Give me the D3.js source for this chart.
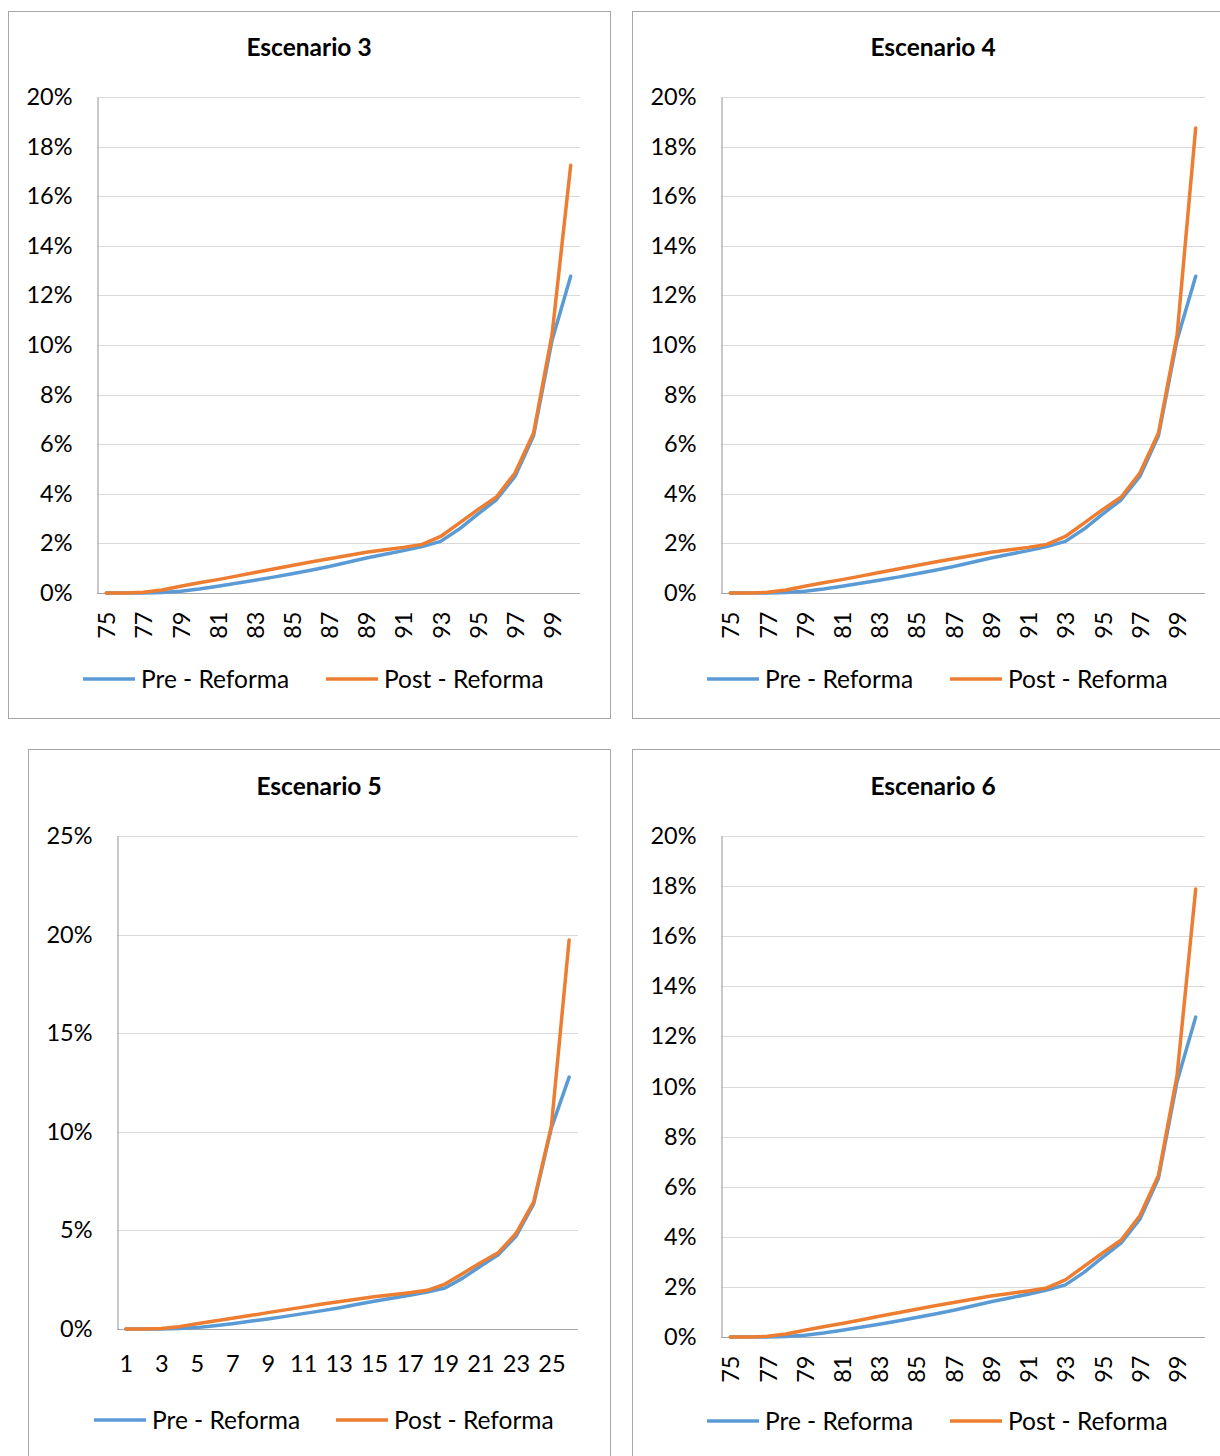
<!DOCTYPE html>
<html>
<head>
<meta charset="utf-8">
<script src="https://cdn.jsdelivr.net/npm/d3@7"></script>
<style>
  html, body { margin: 0; padding: 0; background: #ffffff; }
  svg { display: block; }
  text { font-family: Lato, "Noto Sans", sans-serif; fill: #000; }
</style>
</head>
<body>
<svg id="chart" width="1220" height="1456"></svg>
<script>
// Edades (eje X de los escenarios 3, 4 y 6)
const ages = [75, 76, 77, 78, 79, 80, 81, 82, 83, 84, 85, 86, 87, 88, 89, 90,
              91, 92, 93, 94, 95, 96, 97, 98, 99, 100];
// Índices (eje X del escenario 5)
const steps = [1, 2, 3, 4, 5, 6, 7, 8, 9, 10, 11, 12, 13, 14, 15, 16,
               17, 18, 19, 20, 21, 22, 23, 24, 25, 26];

// Valores en %
const preReforma = [0, 0, 0, 0.02, 0.07, 0.16, 0.27, 0.39, 0.51, 0.64, 0.78, 0.92, 1.07,
                    1.24, 1.41, 1.56, 1.71, 1.87, 2.08, 2.58, 3.18, 3.76, 4.70, 6.34, 10.2, 12.77];
const postEsc3 = [0, 0, 0.03, 0.12, 0.27, 0.41, 0.54, 0.68, 0.83, 0.97, 1.11, 1.25, 1.38,
                  1.51, 1.64, 1.74, 1.84, 1.96, 2.28, 2.82, 3.36, 3.87, 4.84, 6.45, 10.45, 17.25];
const postEsc4 = [0, 0, 0.03, 0.12, 0.27, 0.41, 0.54, 0.68, 0.83, 0.97, 1.11, 1.25, 1.38,
                  1.51, 1.64, 1.74, 1.84, 1.96, 2.28, 2.82, 3.36, 3.87, 4.84, 6.45, 10.4, 18.75];
const postEsc5 = [0, 0, 0.03, 0.12, 0.27, 0.41, 0.54, 0.68, 0.83, 0.97, 1.11, 1.25, 1.38,
                  1.51, 1.64, 1.74, 1.84, 1.96, 2.28, 2.82, 3.36, 3.87, 4.84, 6.45, 10.3, 19.73];
const postEsc6 = [0, 0, 0.03, 0.12, 0.27, 0.41, 0.54, 0.68, 0.83, 0.97, 1.11, 1.25, 1.38,
                  1.51, 1.64, 1.74, 1.84, 1.96, 2.28, 2.82, 3.36, 3.87, 4.84, 6.45, 10.45, 17.88];

const titles = ["Escenario 3", "Escenario 4", "Escenario 5", "Escenario 6"];
const seriesNames = ["Pre - Reforma", "Post - Reforma"];
const ticks20 = [0, 2, 4, 6, 8, 10, 12, 14, 16, 18, 20];
const ticks25 = [0, 5, 10, 15, 20, 25];

const colors = ["#5B9BD5", "#ED7D31"];

const panels = [
  { title: titles[0], cats: ages,  post: postEsc3, yTicks: ticks20, rotate: true,
    frame: [8.5, 11.5, 602, 707], plot: [97, 580, 97, 593], titleXY: [309, 56],
    legendY: 679, legendX: [83, 326] },
  { title: titles[1], cats: ages,  post: postEsc4, yTicks: ticks20, rotate: true,
    frame: [632.5, 11.5, 602, 707], plot: [721, 1205, 97, 593], titleXY: [933, 56],
    legendY: 679, legendX: [707, 950] },
  { title: titles[2], cats: steps, post: postEsc5, yTicks: ticks25, rotate: false,
    frame: [28.5, 749.5, 582, 730], plot: [117, 578, 836, 1329], titleXY: [319, 795],
    legendY: 1420, legendX: [94, 336] },
  { title: titles[3], cats: ages,  post: postEsc6, yTicks: ticks20, rotate: true,
    frame: [632.5, 749.5, 602, 730], plot: [721, 1205, 836, 1337], titleXY: [933, 795],
    legendY: 1421, legendX: [707, 950] }
];

const svg = d3.select("#chart");

panels.forEach(p => {
  const g = svg.append("g");
  const [fx, fy, fw, fh] = p.frame;
  g.append("rect").attr("x", fx).attr("y", fy).attr("width", fw).attr("height", fh)
    .attr("fill", "#fff").attr("stroke", "#a6a6a6").attr("stroke-width", 1);

  const [l, r, t, b] = p.plot;
  const x = d3.scalePoint().domain(p.cats).range([l, r]).padding(0.5);
  const yMax = p.yTicks[p.yTicks.length - 1];
  const y = d3.scaleLinear().domain([0, yMax]).range([b, t]);

  // Gridlines
  g.append("g").selectAll("line").data(p.yTicks.filter(v => v > 0)).join("line")
    .attr("x1", l).attr("x2", r)
    .attr("y1", d => Math.round(y(d)) + 0.5).attr("y2", d => Math.round(y(d)) + 0.5)
    .attr("stroke", "#d9d9d9").attr("stroke-width", 1.2);

  // Y axis
  const yAxis = d3.axisLeft(y).tickValues(p.yTicks).tickSize(0).tickPadding(25)
    .tickFormat(d => d + "%");
  const ya = g.append("g").attr("transform", `translate(${l + 0.5},0)`).call(yAxis);
  ya.select(".domain").attr("stroke", "#a6a6a6").attr("stroke-width", 1.2);
  ya.selectAll("text").style("font-family", "Lato, sans-serif").style("font-size", "23.5px")
    .attr("fill", "#000");

  // X axis
  const xAxis = d3.axisBottom(x).tickSize(0)
    .tickValues(p.cats.filter((d, i) => i % 2 === 0));
  const xa = g.append("g").attr("transform", `translate(0,${Math.round(b) + 0.5})`).call(xAxis);
  xa.select(".domain").attr("d", `M${l},0H${r}`).attr("stroke", "#a6a6a6").attr("stroke-width", 1.2);
  const xt = xa.selectAll("text").style("font-family", "Lato, sans-serif").style("font-size", "23.5px")
    .attr("fill", "#000");
  if (p.rotate) {
    xt.attr("transform", "rotate(-90)").attr("text-anchor", "end")
      .attr("x", -18).attr("y", 0).attr("dy", "0.36em");
  } else {
    xt.attr("y", 26).attr("dy", "0.71em");
  }

  // Series
  const line = d3.line().x((d, i) => x(p.cats[i])).y(d => y(d));
  [preReforma, p.post].forEach((s, k) => {
    g.append("path").datum(s).attr("d", line).attr("fill", "none")
      .attr("stroke", colors[k]).attr("stroke-width", 3.5)
      .attr("stroke-linejoin", "round").attr("stroke-linecap", "round");
  });

  // Title
  g.append("text").attr("x", p.titleXY[0]).attr("y", p.titleXY[1])
    .attr("text-anchor", "middle").style("font-size", "24.5px").style("font-weight", "bold")
    .text(p.title);

  // Legend
  seriesNames.forEach((name, k) => {
    const lx = p.legendX[k];
    g.append("line").attr("x1", lx).attr("x2", lx + 52)
      .attr("y1", p.legendY).attr("y2", p.legendY)
      .attr("stroke", colors[k]).attr("stroke-width", 3.5);
    g.append("text").attr("x", lx + 58).attr("y", p.legendY).attr("dy", "0.36em")
      .style("font-size", "24.5px").text(name);
  });
});
</script>
</body>
</html>
